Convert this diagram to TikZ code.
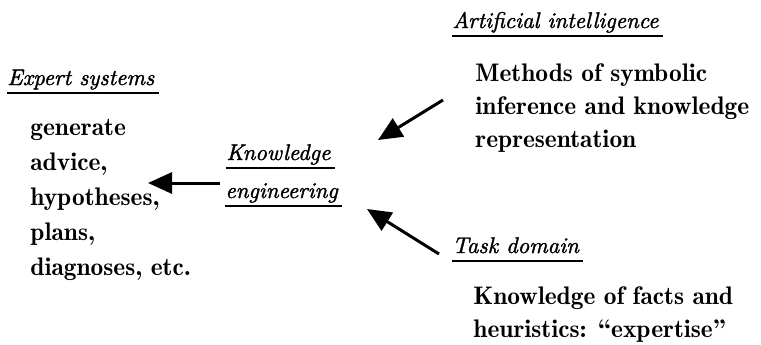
\documentclass[tikz,border=0pt]{standalone}
\usepackage{fontspec}
\usepackage{tikz}
\usetikzlibrary{arrows.meta, positioning, calc}
\newfontface\headit{lmroman10-italic.otf}[FakeBold=1.5]
\tikzset{
    head/.style={font=\fontsize{11.3}{13}\headit, inner sep=0pt, anchor=base west},
    body/.style={font=\fontsize{12.7}{15}\fontseries{b}\selectfont, inner sep=0pt, anchor=base west},
    uline/.style={line width=1pt},
    flow/.style={line width=1.5pt, -{Triangle[length=12pt, width=10.5pt]}},
}
\newcommand{\Uline}[1]{\draw[uline] ([yshift=-4pt]#1.base west) -- ([yshift=-4pt, xshift=2pt]#1.base east);}

\begin{document}
\begin{tikzpicture}[x=0.5pt, y=-0.5pt]
    \useasboundingbox (0,0) rectangle (761,344);

    % expert systems
    \node[head] (es) at (7,85) {Expert systems};
    \Uline{es}
    \node[body] (gen) at (30,135) {generate};
    \node[body] (adv) at ([yshift=-17.5pt]gen.base west) {advice,};
    \node[body] (hyp) at ([yshift=-17.5pt]adv.base west) {hypotheses,};
    \node[body] (pla) at ([yshift=-17.5pt]hyp.base west) {plans,};
    \node[body] (dia) at ([yshift=-17.5pt]pla.base west) {diagnoses, etc.};

    % knowledge engineering
    \node[head] (ke1) at (226,160) {Knowledge};
    \Uline{ke1}
    \node[head] (ke2) at (225,198) {engineering};
    \Uline{ke2}

    % artificial intelligence
    \node[head] (ai) at (452,28) {Artificial intelligence};
    \Uline{ai}
    \node[body] (ai1) at (475,81) {Methods of symbolic};
    \node[body] (ai2) at ([yshift=-16.5pt]ai1.base west) {inference and knowledge};
    \node[body] (ai3) at ([yshift=-16.5pt]ai2.base west) {representation};

    % task domain
    \node[head] (td) at (452,253) {Task domain};
    \Uline{td}
    \node[body] (td1) at (473,304) {Knowledge of facts and};
    \node[body] (td2) at ([yshift=-16.5pt]td1.base west) {heuristics: “expertise”};

    % arrows
    \coordinate (ketail) at (220,183);
    \coordinate (ketip) at (148,183);
    \coordinate (aitail) at (443,100);
    \coordinate (aitip) at (378,140);
    \coordinate (tdtail) at (439,254);
    \coordinate (tdtip) at (367,209);

    \draw[flow] (ketail) -- (ketip);
    \draw[flow] (aitail) -- (aitip);
    \draw[flow] (tdtail) -- (tdtip);
\end{tikzpicture}
\end{document}
